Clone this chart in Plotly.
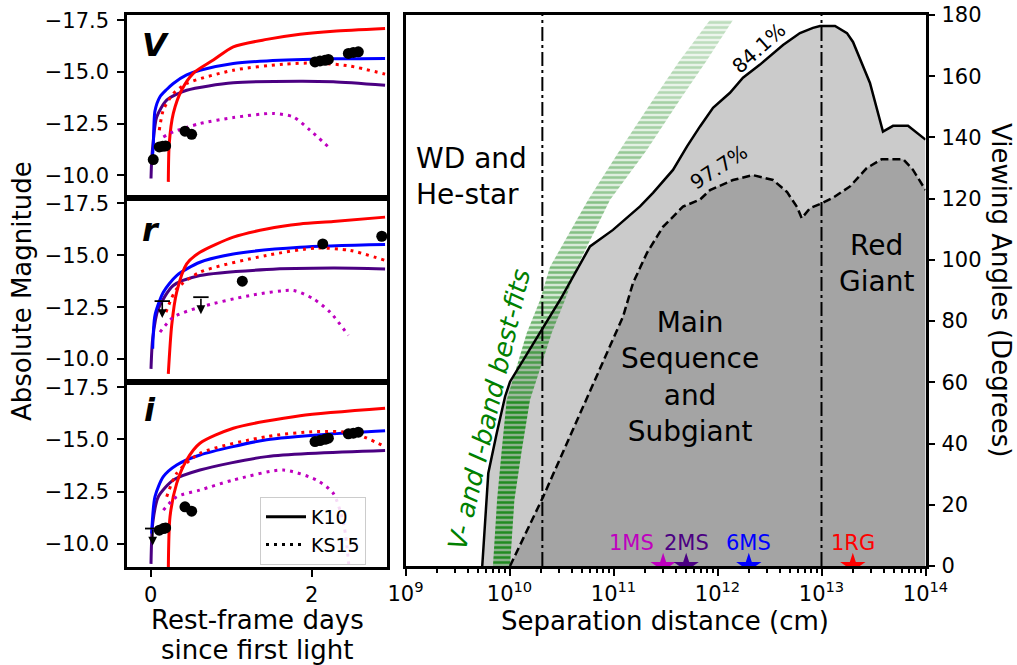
import numpy as np
import plotly.graph_objects as go

# ---------------- Left panels: light curves (days, abs. mag) ----------------
# V band
v_k10_2ms_t = [0.004, 0.012, 0.025, 0.075, 0.199, 0.447, 1.026, 1.855, 2.268, 2.911]
v_k10_2ms_m = [-9.84, -10.7, -11.37, -12.82, -13.63, -14.11, -14.47, -14.55, -14.52, -14.35]
v_k10_6ms_t = [0.015, 0.032, 0.053, 0.116, 0.199, 0.281, 0.447, 0.612, 1.026, 1.441, 2.268, 2.911]
v_k10_6ms_m = [-10.6, -11.4, -13.1, -13.8, -14.15, -14.44, -14.85, -15.08, -15.41, -15.53, -15.63, -15.65]
v_k10_1rg_t = [0.219, 0.231, 0.281, 0.385, 0.529, 0.778, 1.026, 1.441, 1.855, 2.268, 2.911]
v_k10_1rg_m = [-9.68, -11.54, -12.99, -14.12, -14.93, -15.57, -16.21, -16.57, -16.82, -16.97, -17.10]
v_ks15_1rg_t = [0.107, 0.157, 0.281, 0.447, 1.026, 1.647, 2.061, 2.476, 2.911]
v_ks15_1rg_m = [-12.18, -13.15, -13.95, -14.44, -15.08, -15.37, -15.43, -15.28, -14.89]
v_ks15_1ms_t = [0.157, 0.281, 0.612, 1.026, 1.523, 1.772, 1.979, 2.207]
v_ks15_1ms_m = [-11.85, -12.10, -12.50, -12.79, -12.99, -12.82, -12.18, -11.37]
v_obs_t = [0.032, 0.107, 0.149, 0.186, 0.426, 0.509, 2.041, 2.103, 2.165, 2.207, 2.455, 2.517, 2.579]
v_obs_m = [-10.76, -11.37, -11.40, -11.42, -12.13, -11.98, -15.48, -15.53, -15.56, -15.60, -15.89, -15.94, -15.97]
v_lim_t = []
v_lim_m = []

# r band
r_k10_2ms_t = [0.004, 0.025, 0.095, 0.281, 0.612, 1.441, 2.268, 2.911]
r_k10_2ms_m = [-9.53, -10.98, -12.42, -13.54, -14.02, -14.31, -14.38, -14.34]
r_k10_6ms_t = [0.025, 0.053, 0.157, 0.323, 0.612, 1.026, 1.855, 2.911]
r_k10_6ms_m = [-10.5, -12.10, -13.22, -14.02, -14.66, -15.06, -15.38, -15.51]
r_k10_1rg_t = [0.219, 0.261, 0.323, 0.447, 0.612, 1.026, 1.441, 1.855, 2.268, 2.911]
r_k10_1rg_m = [-9.29, -11.62, -13.22, -14.58, -15.14, -15.87, -16.26, -16.50, -16.62, -16.83]
r_ks15_1rg_t = [0.190, 0.323, 0.612, 1.441, 2.061, 2.476, 2.911]
r_ks15_1rg_m = [-12.26, -13.38, -14.18, -14.99, -15.34, -15.23, -14.75]
r_ks15_1ms_t = [0.116, 0.281, 0.612, 1.234, 1.772, 2.020, 2.228, 2.455]
r_ks15_1ms_m = [-11.30, -12.02, -12.50, -13.06, -13.30, -12.90, -12.26, -11.14]
r_obs_t = [1.138, 2.137, 2.870]
r_obs_m = [-13.75, -15.54, -15.91]
r_lim_t = [0.144, 0.624]
r_lim_m = [-12.79, -12.98]

# i band
i_k10_2ms_t = [0.004, 0.025, 0.095, 0.281, 0.612, 1.441, 2.911]
i_k10_2ms_m = [-9.05, -10.98, -12.26, -13.06, -13.54, -14.18, -14.47]
i_k10_6ms_t = [0.012, 0.053, 0.157, 0.323, 0.612, 1.441, 2.268, 2.911]
i_k10_6ms_m = [-10.5, -12.26, -13.22, -13.78, -14.26, -14.99, -15.27, -15.42]
i_k10_1rg_t = [0.219, 0.240, 0.323, 0.447, 0.612, 1.026, 1.855, 2.911]
i_k10_1rg_m = [-8.70, -11.30, -12.90, -14.02, -14.82, -15.54, -16.14, -16.50]
i_ks15_1rg_t = [0.199, 0.323, 0.612, 1.441, 2.061, 2.517, 2.911]
i_ks15_1rg_m = [-12.26, -13.38, -14.34, -15.14, -15.38, -15.30, -14.66]
i_ks15_1ms_t = [0.157, 0.323, 0.612, 1.026, 1.647, 2.061, 2.268, 2.400, 2.470]
i_ks15_1ms_m = [-11.62, -12.26, -12.58, -13.06, -13.54, -13.06, -12.42, -10.90, -8.60]
i_obs_t = [0.107, 0.157, 0.186, 0.426, 0.509, 2.041, 2.103, 2.165, 2.207, 2.455, 2.517, 2.579]
i_obs_m = [-10.66, -10.74, -10.77, -11.78, -11.57, -14.90, -14.95, -15.01, -15.06, -15.27, -15.30, -15.35]
i_lim_t = [0.025]
i_lim_m = [-10.74]

band_names = ["V", "r", "i"]

# ---------------- Right panel: viewing angle vs separation ----------------
sep84_log10 = [9.738, 9.796, 9.877, 9.957, 10.005, 10.486, 10.774, 10.995, 11.255, 11.380, 11.572,
               11.707, 11.832, 11.957, 12.120, 12.245, 12.409, 12.630, 12.793, 12.918, 12.986,
               13.130, 13.245, 13.303, 13.466, 13.591, 13.688, 13.832, 14.0]
ang84 = [0, 30.3, 43.4, 55.3, 60.2, 86.9, 104.4, 109.8, 117.5, 121.9, 129.4,
         137.1, 143.6, 149.7, 154.6, 159.5, 163.8, 170.2, 174.1, 175.8, 176.4,
         176.4, 174.1, 171.2, 157.8, 141.9, 143.8, 143.8, 139.3]
sep977_log10 = [10.005, 10.322, 11.091, 11.188, 11.322, 11.476, 11.668, 11.832, 11.928, 12.149,
                12.341, 12.534, 12.668, 12.764, 12.810, 12.889, 13.002, 13.111, 13.274, 13.435,
                13.579, 13.786, 13.880, 14.0]
ang977 = [0, 22.5, 81.4, 92.5, 102.3, 110.8, 117.4, 119.7, 122.8, 126.1,
          127.7, 126.1, 122.2, 117.3, 113.6, 116.9, 118.5, 120.3, 124.0, 130.0,
          132.9, 132.9, 129.4, 122.8]

# V- and I-band best-fit band: angle, lower and upper separation (log10 cm)
fit_ang = [0, 21.5, 37.8, 54.2, 76.1, 86.8, 97.7, 119.6, 136.0, 152.3, 165.3, 178.4]
fit_lo_log10 = [9.841, 9.880, 9.925, 9.973, 10.166, 10.293, 10.389, 10.755, 11.063, 11.380, 11.640, 11.928]
fit_hi_log10 = [10.005, 10.047, 10.118, 10.197, 10.406, 10.533, 10.649, 10.966, 11.322, 11.639, 11.900, 12.149]

boundary_cm = [2.07e10, 1e13]

companion_names = ["1MS", "2MS", "6MS", "1RG"]
companion_sep_cm = [3e11, 5e11, 2e12, 2e13]

# ---------------- Styling ----------------
W, H = 1017, 665
FONT = "DejaVu Sans"
C_RG, C_6MS, C_2MS, C_1MS = "#ff0000", "#0000ff", "#4b0082", "#bf00bf"
comp_colors = [C_1MS, C_2MS, C_6MS, C_RG]
DOT = "3px,5px"


def px_x(p):
    return p / W


def px_y(p):
    return 1 - p / H


fig = go.Figure()

panels = [
    ("x", "y", v_k10_2ms_t, v_k10_2ms_m, v_k10_6ms_t, v_k10_6ms_m, v_k10_1rg_t, v_k10_1rg_m,
     v_ks15_1rg_t, v_ks15_1rg_m, v_ks15_1ms_t, v_ks15_1ms_m, v_obs_t, v_obs_m, v_lim_t, v_lim_m),
    ("x2", "y2", r_k10_2ms_t, r_k10_2ms_m, r_k10_6ms_t, r_k10_6ms_m, r_k10_1rg_t, r_k10_1rg_m,
     r_ks15_1rg_t, r_ks15_1rg_m, r_ks15_1ms_t, r_ks15_1ms_m, r_obs_t, r_obs_m, r_lim_t, r_lim_m),
    ("x3", "y3", i_k10_2ms_t, i_k10_2ms_m, i_k10_6ms_t, i_k10_6ms_m, i_k10_1rg_t, i_k10_1rg_m,
     i_ks15_1rg_t, i_ks15_1rg_m, i_ks15_1ms_t, i_ks15_1ms_m, i_obs_t, i_obs_m, i_lim_t, i_lim_m),
]


def line_tr(x, y, color, dash, xa, ya, width=3):
    return go.Scatter(x=x, y=y, mode="lines",
                      line=dict(color=color, width=width, dash=dash, shape="spline", smoothing=0.7),
                      xaxis=xa, yaxis=ya, showlegend=False, hoverinfo="skip")


for (xa, ya, t2, m2, t6, m6, tr, mr, tdr, mdr, tdm, mdm, to, mo, tl, ml) in panels:
    fig.add_trace(line_tr(t2, m2, C_2MS, "solid", xa, ya))
    fig.add_trace(line_tr(t6, m6, C_6MS, "solid", xa, ya))
    fig.add_trace(line_tr(tr, mr, C_RG, "solid", xa, ya))
    fig.add_trace(line_tr(tdr, mdr, C_RG, DOT, xa, ya))
    fig.add_trace(line_tr(tdm, mdm, C_1MS, DOT, xa, ya))
    fig.add_trace(go.Scatter(x=to, y=mo, mode="markers", marker=dict(color="black", size=11),
                             xaxis=xa, yaxis=ya, showlegend=False, hoverinfo="skip"))
    if tl:
        fig.add_trace(go.Scatter(x=tl, y=ml, mode="markers",
                                 marker=dict(symbol="line-ew", size=11, line=dict(color="black", width=1.8)),
                                 xaxis=xa, yaxis=ya, showlegend=False, hoverinfo="skip"))
        for t, m in zip(tl, ml):
            fig.add_annotation(x=t, y=m, xref=xa, yref=ya, ax=0, ay=-17, yshift=-17,
                               showarrow=True, arrowhead=2, arrowsize=1.1, arrowwidth=1.6,
                               arrowcolor="black", text="")

# legend entries
fig.add_trace(go.Scatter(x=[None], y=[None], mode="lines", name="K10",
                         line=dict(color="black", width=3), xaxis="x3", yaxis="y3"))
fig.add_trace(go.Scatter(x=[None], y=[None], mode="lines", name="KS15",
                         line=dict(color="black", width=3, dash=DOT), xaxis="x3", yaxis="y3"))

# ---------------- Right panel traces ----------------
sep84 = np.power(10.0, sep84_log10)
sep977 = np.power(10.0, sep977_log10)
fig.add_trace(go.Scatter(x=sep84, y=ang84, mode="lines", fill="tozeroy", fillcolor="#cbcbcb",
                         line=dict(width=0), xaxis="x4", yaxis="y4", showlegend=False, hoverinfo="skip"))
fig.add_trace(go.Scatter(x=sep977, y=ang977, mode="lines", fill="tozeroy", fillcolor="#a4a4a4",
                         line=dict(width=0), xaxis="x4", yaxis="y4", showlegend=False, hoverinfo="skip"))


def band_alpha(deg):
    # strong near the bottom, fading towards large viewing angles
    if deg < 45:
        return 1.0
    if deg < 70:
        return 1.0 - 0.4 * (deg - 45) / 25.0
    return max(0.22, 0.6 - 0.38 * (deg - 70) / 105.0)


# green best-fit band, fading with angle
fit_lo = np.power(10.0, fit_lo_log10)
fit_hi = np.power(10.0, fit_hi_log10)
for k in range(len(fit_ang) - 1):
    a = band_alpha(0.5 * (fit_ang[k] + fit_ang[k + 1]))
    fig.add_trace(go.Scatter(
        x=[fit_lo[k], fit_lo[k + 1], fit_hi[k + 1], fit_hi[k], fit_lo[k]],
        y=[fit_ang[k], fit_ang[k + 1], fit_ang[k + 1], fit_ang[k], fit_ang[k]],
        mode="lines", fill="toself", line=dict(width=0),
        fillcolor="rgba(34,139,34,%.3f)" % (0.38 * a),
        fillpattern=dict(shape="-", fgcolor="#228b22", fgopacity=a, bgcolor="rgba(34,139,34,%.3f)" % (0.38 * a),
                         size=5, solidity=0.5),
        xaxis="x4", yaxis="y4", showlegend=False, hoverinfo="skip"))

fig.add_trace(go.Scatter(x=sep84, y=ang84, mode="lines", line=dict(color="black", width=2.5),
                         xaxis="x4", yaxis="y4", showlegend=False, hoverinfo="skip"))
fig.add_trace(go.Scatter(x=sep977, y=ang977, mode="lines", line=dict(color="black", width=2.5, dash="8px,4px"),
                         xaxis="x4", yaxis="y4", showlegend=False, hoverinfo="skip"))
for b in boundary_cm:
    fig.add_trace(go.Scatter(x=[b, b], y=[0, 180], mode="lines",
                             line=dict(color="black", width=2, dash="14px,4px,3px,4px"),
                             xaxis="x4", yaxis="y4", showlegend=False, hoverinfo="skip"))

fig.add_trace(go.Scatter(x=companion_sep_cm, y=[0] * len(companion_sep_cm), mode="markers",
                         marker=dict(symbol="star", size=19, color=comp_colors, line=dict(width=0)),
                         cliponaxis=True, xaxis="x4", yaxis="y4", showlegend=False, hoverinfo="skip"))
label_shift = {"1MS": -32}
for name, sep, col in zip(companion_names, companion_sep_cm, comp_colors):
    fig.add_annotation(text=name, x=np.log10(sep), y=0, xref="x4", yref="y4", showarrow=False,
                       yshift=23, xshift=label_shift.get(name, 0), xanchor="center", yanchor="middle",
                       font=dict(size=21, family=FONT, color=col))

# ---------------- Axes ----------------
frame = dict(showline=True, mirror=True, linecolor="black", linewidth=2.5, showgrid=False,
             zeroline=False, automargin=False)
tickstyle = dict(ticks="outside", ticklen=7, tickwidth=2, tickcolor="black",
                 tickfont=dict(size=21, family=FONT, color="black"))

left_dom = [px_x(127), px_x(387)]
y_doms = [[px_y(198), px_y(15)], [px_y(382), px_y(198)], [px_y(567), px_y(382)]]
xr = [-0.294, 2.935]
yr = [-8.9, -17.75]

layout = dict(
    width=W, height=H, margin=dict(l=0, r=0, t=0, b=0, autoexpand=False),
    paper_bgcolor="white", plot_bgcolor="white",
    font=dict(family=FONT, color="black"),
    legend=dict(x=px_x(260), y=px_y(497), xanchor="left", yanchor="top",
                bgcolor="rgba(255,255,255,0.85)", bordercolor="#cccccc", borderwidth=1,
                font=dict(size=19, family=FONT, color="black"), itemwidth=40, tracegroupgap=2),
)
for k, (xa, ya) in enumerate([("xaxis", "yaxis"), ("xaxis2", "yaxis2"), ("xaxis3", "yaxis3")]):
    xn = "x" if k == 0 else "x%d" % (k + 1)
    yn = "y" if k == 0 else "y%d" % (k + 1)
    xd = dict(domain=left_dom, range=xr, anchor=yn, **frame)
    if k == 2:
        xd.update(tickvals=[0, 2], ticktext=["0", "2"], **tickstyle)
    else:
        xd.update(showticklabels=False, ticks="")
    layout[xa] = xd
    layout[ya] = dict(domain=y_doms[k], range=yr, anchor=xn, tickvals=[-17.5, -15, -12.5, -10],
                      tickformat=".1f", ticklabelstandoff=4, **frame, **tickstyle)

minor_vals = [m * 10.0 ** e for e in range(9, 14) for m in range(2, 10)]
layout["xaxis4"] = dict(domain=[px_x(405.5), px_x(925.5)], type="log", range=[9, 14], anchor="y4",
                        tickvals=[10.0 ** e for e in range(9, 15)],
                        ticktext=["10<sup>%d</sup>" % e for e in range(9, 15)],
                        minor=dict(ticks="outside", ticklen=4, tickwidth=1.5, tickcolor="black",
                                   tickmode="array", tickvals=minor_vals),
                        **frame, **tickstyle)
layout["yaxis4"] = dict(domain=[px_y(566), px_y(15)], range=[0, 180], anchor="x4", side="right",
                        tick0=0, dtick=20, ticklabelstandoff=2, **frame, **tickstyle)
fig.update_layout(**layout)

# ---------------- Text ----------------
def note(text, x, y, size, angle=0, color="black", xanchor="center", yanchor="middle", align="center"):
    fig.add_annotation(text=text, x=px_x(x), y=px_y(y), xref="paper", yref="paper", showarrow=False,
                       textangle=angle, xanchor=xanchor, yanchor=yanchor, align=align,
                       font=dict(size=size, family=FONT, color=color))

note("<b><i>V</i></b>", 155, 45, 32)
note("<b><i>r</i></b>", 151, 230, 32)
note("<b><i>i</i></b>", 150, 410, 32)

note("Absolute Magnitude", 22, 291, 26, angle=-90)
note("Rest-frame days", 257, 620, 26)
note("since first light", 257, 650, 26)
note("Separation distance (cm)", 665, 621, 26)
note("Viewing Angles (Degrees)", 1001, 290, 26, angle=90)

note("WD and<br>He-star", 414, 140, 28, xanchor="left", yanchor="top", align="left")
note("Main<br>Sequence<br>and<br>Subgiant", 690, 377, 28)
note("Red<br>Giant", 876, 263, 28)
note("<i>V- and I-band best-fits</i>", 489, 410, 26, angle=-77, color="#008000")
note("84.1%", 759, 48, 20, angle=-42)
note("97.7%", 719, 167, 20, angle=-33)

fig.write_html("out.html", config={"displayModeBar": False},
               post_script="document.body.style.margin='0';document.body.style.padding='0';")
